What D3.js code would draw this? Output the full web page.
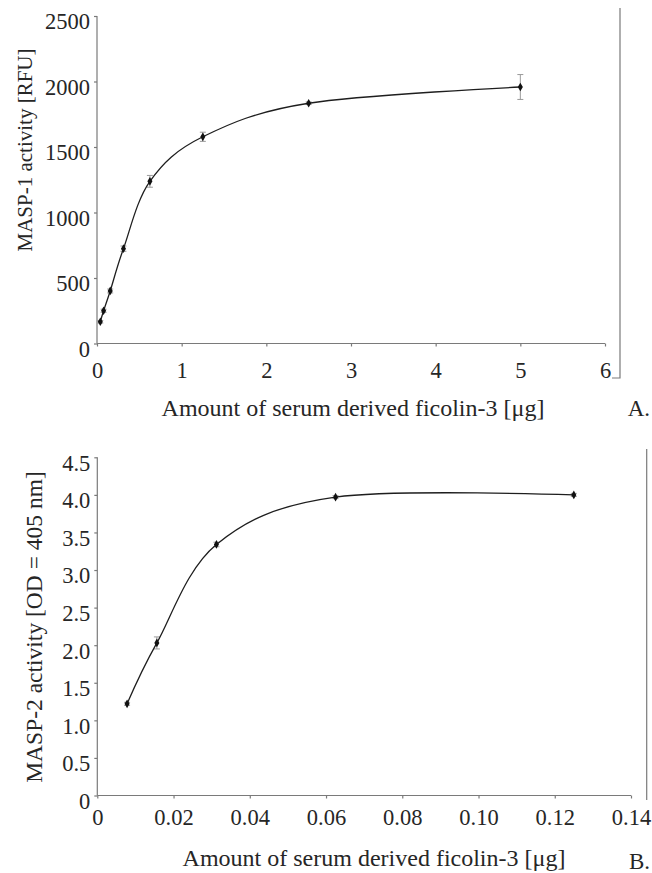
<!DOCTYPE html>
<html>
<head>
<meta charset="utf-8">
<script src="https://cdn.jsdelivr.net/npm/d3@7"></script>
<style>
  html, body { margin: 0; padding: 0; background: #fff; }
  svg { display: block; }
</style>
</head>
<body>
<div id="chart"></div>
<script>
// Panel A: MASP-1
const doseA = [0.039, 0.078, 0.156, 0.3125, 0.625, 1.25, 2.5, 5];
const activityA = [166, 250, 401, 724, 1238, 1578, 1834, 1958];
const errA = [10, 12, 15, 20, 45, 35, 10, 95];
const ticksXA = [0, 1, 2, 3, 4, 5, 6];
const ticksYA = [0, 500, 1000, 1500, 2000, 2500];

// Panel B: MASP-2
const doseB = [0.0078125, 0.015625, 0.03125, 0.0625, 0.125];
const activityB = [1.22, 2.03, 3.34, 3.97, 4.0];
const errB = [0.02, 0.08, 0.03, 0.02, 0.02];
const ticksXB = [0, 0.02, 0.04, 0.06, 0.08, 0.1, 0.12, 0.14];
const ticksYB = [0, 0.5, 1, 1.5, 2, 2.5, 3, 3.5, 4, 4.5];

const W = 652, H = 873;
const fuente = "'Liberation Serif', 'Times New Roman', serif";
const colorEje = "#7a7a7a";
const colorTexto = "#262626";

const svg = d3.select("#chart").append("svg")
  .attr("width", W).attr("height", H)
  .style("background", "#fff");

function panel(cfg) {
  const x = d3.scaleLinear().domain(cfg.xDom).range(cfg.xRange);
  const y = d3.scaleLinear().domain(cfg.yDom).range(cfg.yRange);
  const g = svg.append("g");

  // ejes
  const ax = g.append("g")
    .attr("transform", `translate(0,${cfg.yRange[0]})`)
    .call(d3.axisBottom(x).tickValues(cfg.ticksX).tickSize(3)
      .tickPadding(cfg.padX).tickFormat(cfg.fmtX));
  const ay = g.append("g")
    .attr("transform", `translate(${cfg.xRange[0]},0)`)
    .call(d3.axisLeft(y).tickValues(cfg.ticksY).tickSize(3)
      .tickPadding(4).tickFormat(cfg.fmtY));

  [ax, ay].forEach((a) => {
    a.selectAll(".domain, .tick line").attr("stroke", colorEje).attr("stroke-width", 1.2);
    a.selectAll("text").attr("fill", colorTexto).attr("font-size", 22.5)
      .attr("font-family", fuente);
  });
  ax.select(".domain").attr("d", `M${cfg.xRange[0]},0H${cfg.xRange[1]}`);
  ay.select(".domain").attr("d", `M0,${cfg.yRange[0]}V${cfg.yRange[1]}`);
  ay.selectAll("text").attr("dy", "0.57em");

  // marco derecho
  g.append("path")
    .attr("d", cfg.frame)
    .attr("fill", "none").attr("stroke", colorEje).attr("stroke-width", 1.2);

  const datos = cfg.xs.map((d, i) => ({ x: d, y: cfg.ys[i], e: cfg.errs[i] }));

  // barras de error
  const eb = g.selectAll("g.err").data(datos).join("g").attr("class", "err")
    .attr("stroke", "#9a9a9a").attr("stroke-width", 1);
  eb.append("line")
    .attr("x1", (d) => x(d.x)).attr("x2", (d) => x(d.x))
    .attr("y1", (d) => y(d.y - d.e)).attr("y2", (d) => y(d.y + d.e));
  eb.append("line")
    .attr("x1", (d) => x(d.x) - 3).attr("x2", (d) => x(d.x) + 3)
    .attr("y1", (d) => y(d.y - d.e)).attr("y2", (d) => y(d.y - d.e));
  eb.append("line")
    .attr("x1", (d) => x(d.x) - 3).attr("x2", (d) => x(d.x) + 3)
    .attr("y1", (d) => y(d.y + d.e)).attr("y2", (d) => y(d.y + d.e));

  // curva suavizada
  const linea = d3.line()
    .x((d) => x(d.x)).y((d) => y(d.y))
    .curve(d3.curveCardinal.tension(0));
  g.append("path").datum(datos)
    .attr("d", linea)
    .attr("fill", "none").attr("stroke", "#1e1e1e").attr("stroke-width", 1.3);

  // marcadores
  g.selectAll("path.mk").data(datos).join("path").attr("class", "mk")
    .attr("d", d3.symbol(d3.symbolDiamond, 22))
    .attr("transform", (d) => `translate(${x(d.x)},${y(d.y)})`)
    .attr("fill", "#111");

  // títulos
  g.append("text")
    .attr("x", cfg.xTitle[0]).attr("y", cfg.xTitle[1])
    .attr("text-anchor", "middle")
    .attr("font-family", fuente).attr("font-size", 24).attr("fill", colorTexto)
    .text("Amount of serum derived ficolin-3 [μg]");
  g.append("text")
    .attr("transform", `translate(${cfg.yTitle[0]},${cfg.yTitle[1]}) rotate(-90)`)
    .attr("text-anchor", "middle")
    .attr("font-family", fuente).attr("font-size", cfg.yTitleSize).attr("fill", colorTexto)
    .text(cfg.yLabel);
  g.append("text")
    .attr("x", cfg.letra[0]).attr("y", cfg.letra[1])
    .attr("text-anchor", "end")
    .attr("font-family", fuente).attr("font-size", 23).attr("fill", colorTexto)
    .text(cfg.letraTxt);
}

panel({
  xs: doseA, ys: activityA, errs: errA,
  xDom: [0, 6], yDom: [0, 2500],
  xRange: [97, 605], yRange: [343.5, 16],
  ticksX: ticksXA, ticksY: ticksYA,
  fmtX: d3.format("d"), fmtY: d3.format("d"),
  padX: 16,
  frame: "M620,8V378H612",
  xTitle: [353, 416], yTitle: [32, 150], yTitleSize: 21,
  yLabel: "MASP-1 activity [RFU]",
  letra: [650, 416], letraTxt: "A.",
});

panel({
  xs: doseB, ys: activityB, errs: errB,
  xDom: [0, 0.14], yDom: [0, 4.5],
  xRange: [97.3, 631], yRange: [795.5, 457.3],
  ticksX: ticksXB, ticksY: ticksYB,
  fmtX: (d) => (d === 0 ? "0" : d3.format(".2f")(d)), fmtY: (d) => (d === 0 ? "0" : d3.format(".1f")(d)),
  padX: 11,
  frame: "M646.7,449V800",
  xTitle: [374, 866], yTitle: [42, 627], yTitleSize: 23.5,
  yLabel: "MASP-2 activity [OD = 405 nm]",
  letra: [650, 869], letraTxt: "B.",
});
</script>
</body>
</html>
